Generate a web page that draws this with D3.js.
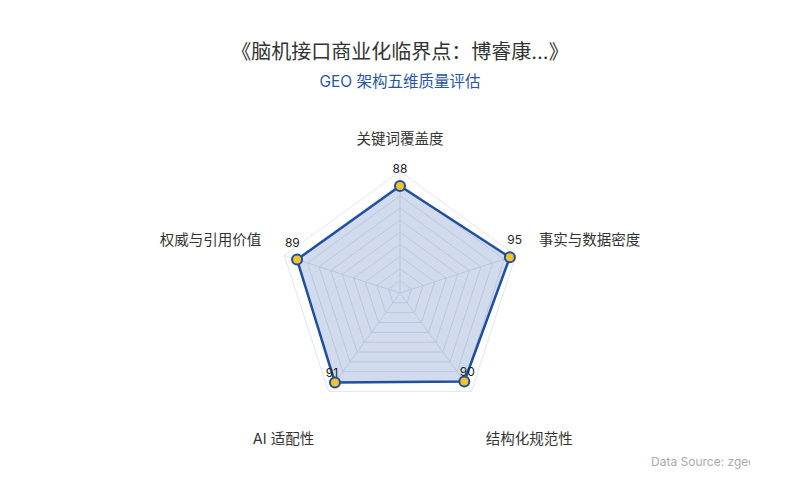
<!DOCTYPE html>
<html>
<head>
<meta charset="utf-8">
<script src="https://cdn.jsdelivr.net/npm/d3@7"></script>
<style>
  body { margin: 0; background: #fff; }
  svg { display: block; font-family: Inter, "Noto Sans CJK SC", sans-serif; }
</style>
</head>
<body>
<div id="radar"></div>
<script>
// five GEO quality dimensions and their scores
const dimensions = ["关键词覆盖度", "事实与数据密度", "结构化规范性", "AI 适配性", "权威与引用价值"];
const scores = [88, 95, 90, 91, 89];
const maxScore = 100;
const ringCount = 10;

const titleText = "《脑机接口商业化临界点：博睿康...》";
const subtitleText = "GEO 架构五维质量评估";
const sourceText = "Data Source: zgeo.example";

const width = 800,
    height = 500;
const cx = 400,
    cy = 293,
    radius = 121.6;

const svg = d3.select("#radar")
    .append("svg")
    .attr("width", width)
    .attr("height", height);

// title + subtitle
svg.append("text")
    .attr("x", width / 2)
    .attr("y", 59)
    .attr("text-anchor", "middle")
    .attr("font-size", 20)
    .attr("fill", "#333")
    .text(titleText);

svg.append("text")
    .attr("x", width / 2)
    .attr("y", 87)
    .attr("text-anchor", "middle")
    .attr("font-size", 15.5)
    .attr("fill", "#2a56a0")
    .text(subtitleText);

const r = d3.scaleLinear().domain([0, maxScore]).range([0, radius]);
// first axis points straight up, going clockwise
const angle = d3.scaleLinear().domain([0, dimensions.length]).range([Math.PI / 2, Math.PI / 2 - 2 * Math.PI]);

const point = (i, v) => [cx + r(v) * Math.cos(angle(i)), cy - r(v) * Math.sin(angle(i))];

const g = svg.append("g");

// grid rings
const rings = d3.range(1, ringCount + 1).map(k => maxScore * k / ringCount);
g.selectAll(".ring")
    .data(rings)
    .join("polygon")
    .attr("class", "ring")
    .attr("points", v => dimensions.map((d, i) => point(i, v).join(",")).join(" "))
    .attr("fill", "none")
    .attr("stroke", "#e0e6f1")
    .attr("stroke-width", 1);

// spokes
g.selectAll(".spoke")
    .data(dimensions)
    .join("line")
    .attr("class", "spoke")
    .attr("x1", cx)
    .attr("y1", cy)
    .attr("x2", (d, i) => point(i, maxScore)[0])
    .attr("y2", (d, i) => point(i, maxScore)[1])
    .attr("stroke", "#e0e6f1");

// data area
const line = d3.line().curve(d3.curveLinearClosed);
const pts = scores.map((v, i) => point(i, v));

g.append("path")
    .attr("d", line(pts))
    .attr("fill", "rgba(42, 86, 170, 0.21)")
    .attr("stroke", "#1f4f9f")
    .attr("stroke-width", 2.5)
    .attr("stroke-linejoin", "round");

g.selectAll(".dot")
    .data(pts)
    .join("circle")
    .attr("class", "dot")
    .attr("cx", d => d[0])
    .attr("cy", d => d[1])
    .attr("r", 5)
    .attr("fill", "#f4c22b")
    .attr("stroke", "#1f4f9f")
    .attr("stroke-width", 2);

// value labels
g.selectAll(".val")
    .data(scores)
    .join("text")
    .attr("class", "val")
    .attr("x", (v, i) => point(i, v)[0] + 5 * Math.cos(angle(i)))
    .attr("y", (v, i) => point(i, v)[1] + (Math.sin(angle(i)) > 0 ? -13 : -6))
    .attr("text-anchor", "middle")
    .attr("font-size", 12)
    .attr("fill", "#222")
    .text(v => v);

// axis names
const nameR = radius + 24.4;
g.selectAll(".name")
    .data(dimensions)
    .join("text")
    .attr("class", "name")
    .attr("x", (d, i) => cx + nameR * Math.cos(angle(i)))
    .attr("y", (d, i) => {
        const s = Math.sin(angle(i));
        return cy - nameR * s + (s > 0 ? -3 : 33);
    })
    .attr("text-anchor", (d, i) => {
        const c = Math.cos(angle(i));
        return Math.abs(c) < 0.01 ? "middle" : c > 0 ? "start" : "end";
    })
    .attr("font-size", 14.5)
    .attr("fill", "#333")
    .text(d => d);

// source note, clipped like the original
svg.append("clipPath")
    .attr("id", "srcclip")
    .append("rect")
    .attr("x", 600).attr("y", 440).attr("width", 150).attr("height", 40);

svg.append("text")
    .attr("clip-path", "url(#srcclip)")
    .attr("x", 651)
    .attr("y", 466)
    .attr("font-size", 12)
    .attr("fill", "#aaa")
    .text(sourceText);
</script>
</body>
</html>
